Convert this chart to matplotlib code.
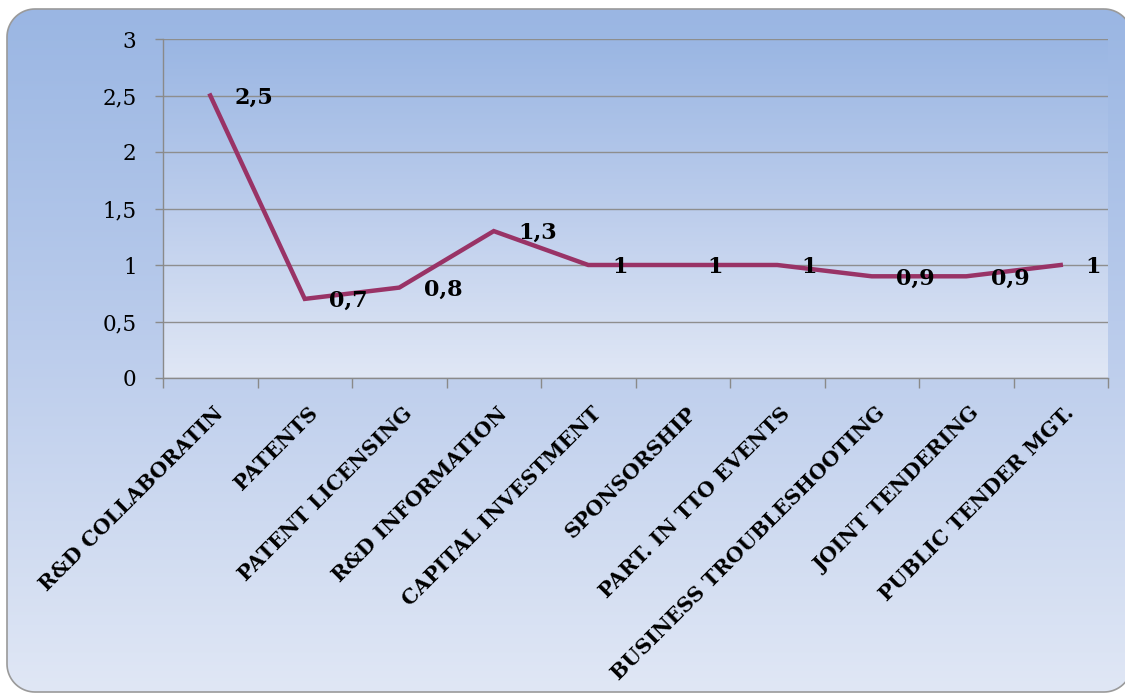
import numpy as np
import matplotlib
matplotlib.use("Agg")
import matplotlib.pyplot as plt
from matplotlib.patches import PathPatch
from matplotlib.path import Path
from matplotlib.colors import LinearSegmentedColormap

categories = ["R&D COLLABORATIN", "PATENTS", "PATENT LICENSING", "R&D INFORMATION",
              "CAPITAL INVESTMENT", "SPONSORSHIP", "PART. IN TTO EVENTS",
              "BUSINESS TROUBLESHOOTING", "JOINT TENDERING", "PUBLIC TENDER MGT."]
values = [2.5, 0.7, 0.8, 1.3, 1.0, 1.0, 1.0, 0.9, 0.9, 1.0]
y_ticks = [0, 0.5, 1, 1.5, 2, 2.5, 3]

W, H = 1125, 695
fig = plt.figure(figsize=(W / 100, H / 100), dpi=100)
fig.patch.set_facecolor("white")

grad_cmap = LinearSegmentedColormap.from_list("g", ["#9ab6e3", "#bccdec", "#e0e7f5"])


def rounded_rect(x0, y0, x1, y1, r, n=20):
    pts = []
    corners = [(x1 - r, y0 + r, -90, 0), (x1 - r, y1 - r, 0, 90),
               (x0 + r, y1 - r, 90, 180), (x0 + r, y0 + r, 180, 270)]
    for cx, cy, a0, a1 in corners:
        for a in np.linspace(np.radians(a0), np.radians(a1), n):
            pts.append((cx + r * np.cos(a), cy + r * np.sin(a)))
    pts.append(pts[0])
    return Path(pts)


# background rounded panel (pixel coords, y downward)
bg = fig.add_axes([0, 0, 1, 1])
bg.set_xlim(0, W)
bg.set_ylim(H, 0)
bg.axis("off")
x0, y0, x1, y1, r = 7, 9, 1132, 692, 28
panel = PathPatch(rounded_rect(x0, y0, x1, y1, r), facecolor="none",
                  edgecolor="#9a9a9a", lw=1.2, zorder=3)
bg.add_patch(panel)
g = np.linspace(0, 1, 256).reshape(-1, 1)
im = bg.imshow(g, cmap=grad_cmap, extent=(x0, x1, y1, y0), aspect="auto",
               origin="upper", zorder=1)
im.set_clip_path(panel)

# main plot
L, R, T, B = 163, 1108, 39, 378
ax = fig.add_axes([L / W, 1 - B / H, (R - L) / W, (B - T) / H])
ax.set_facecolor("none")
n = len(categories)
ax.set_xlim(-0.5, n - 0.5)
ax.set_ylim(0, 3)
ax.imshow(g, cmap=grad_cmap, extent=(-0.5, n - 0.5, 0, 3), aspect="auto",
          origin="upper", zorder=0)

for yv in y_ticks:
    ax.axhline(yv, color="#8e8e8e", lw=1, zorder=1)

x = np.arange(n)
ax.plot(x, values, color="#993366", lw=3.2, solid_joinstyle="miter", zorder=3)

for xi, v in zip(x, values):
    lbl = f"{v:g}".replace(".", ",")
    ax.annotate(lbl, (xi, v), xytext=(17.5, -1.5), textcoords="offset points",
                ha="left", va="center", fontsize=16, fontweight="bold",
                family="DejaVu Serif", color="black", zorder=4)

for s in ["top", "right"]:
    ax.spines[s].set_visible(False)
for s in ["left", "bottom"]:
    ax.spines[s].set_color("#8a8a8a")
    ax.spines[s].set_linewidth(1)

ax.set_yticks(y_ticks)
ax.set_yticklabels([f"{t:g}".replace(".", ",") for t in y_ticks],
                   family="DejaVu Serif", fontsize=15.5)
ax.tick_params(axis="y", length=6, width=1, color="#8a8a8a", pad=13)

ax.set_xticks(np.arange(-0.5, n, 1.0))
ax.set_xticklabels([])
ax.tick_params(axis="x", length=7, width=1, color="#8a8a8a")

for xi, c in zip(x, categories):
    ax.annotate(c, (xi, 0), xycoords=("data", "axes fraction"),
                xytext=(2, -18), textcoords="offset points",
                ha="right", va="top", rotation=45, rotation_mode="anchor",
                fontsize=14.8, fontweight="bold", family="DejaVu Serif",
                color="black", annotation_clip=False)

fig.savefig("out.png", dpi=100, facecolor="white")
